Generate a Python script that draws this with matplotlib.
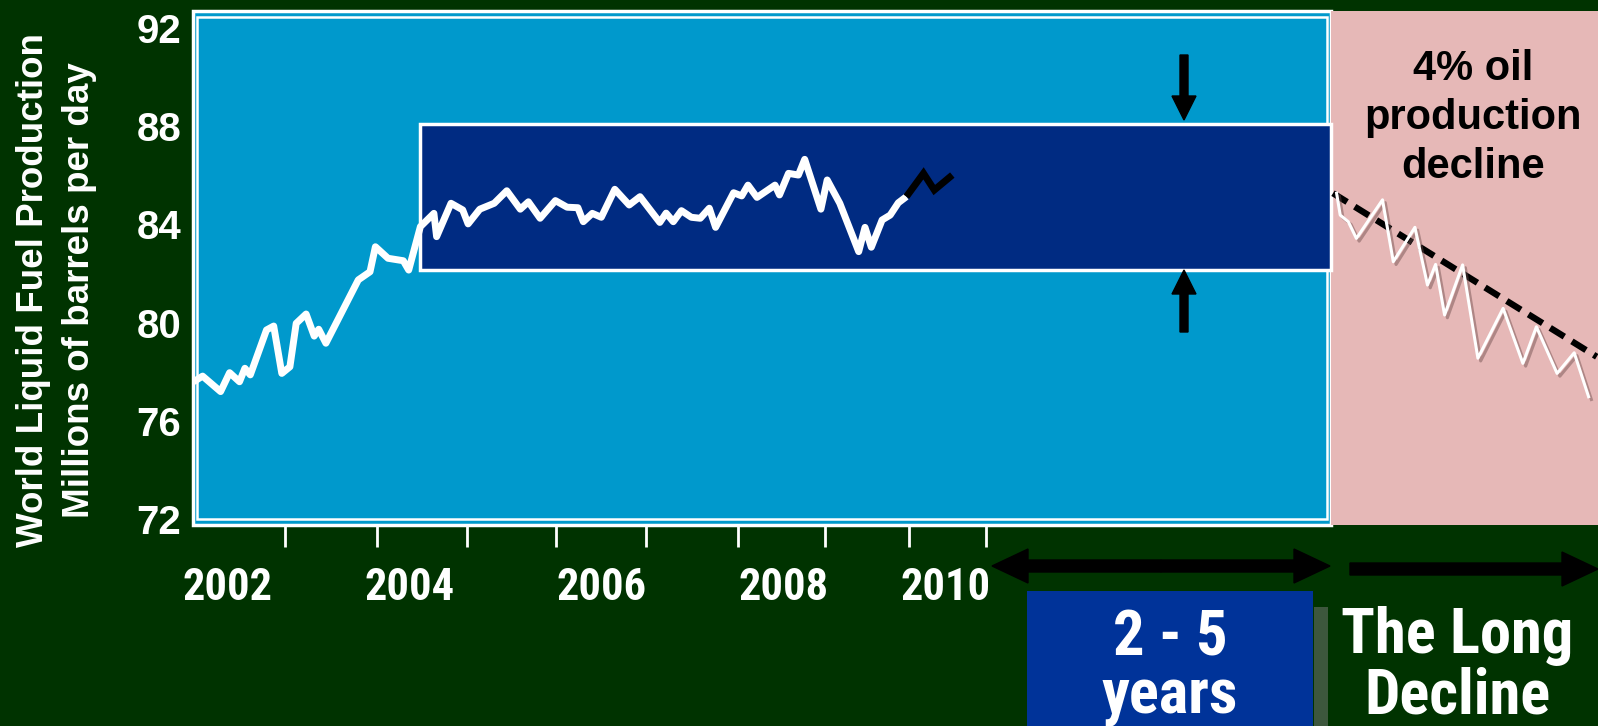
import matplotlib
matplotlib.use("Agg")
import matplotlib.pyplot as plt
import matplotlib.patheffects as pe
from matplotlib import font_manager
from matplotlib.patches import Rectangle, FancyArrow

# World liquid fuel production, million barrels per day (monthly-ish readings)
hist_year = [2001.64, 2001.74, 2001.94, 2002.04, 2002.15, 2002.21, 2002.27, 2002.45,
             2002.53, 2002.62, 2002.71, 2002.78, 2002.89, 2002.98, 2003.03, 2003.11,
             2003.47, 2003.60, 2003.66, 2003.80, 2003.97, 2004.03, 2004.16, 2004.31,
             2004.34, 2004.50, 2004.63, 2004.69, 2004.82, 2004.98, 2005.12, 2005.27,
             2005.36, 2005.49, 2005.66, 2005.79, 2005.91, 2005.97, 2006.07, 2006.17,
             2006.32, 2006.48, 2006.60, 2006.82, 2006.89, 2006.97, 2007.06, 2007.17,
             2007.27, 2007.37, 2007.44, 2007.64, 2007.73, 2007.80, 2007.90, 2008.10,
             2008.15, 2008.25, 2008.36, 2008.43, 2008.61, 2008.68, 2008.82, 2009.03,
             2009.10, 2009.17, 2009.29, 2009.38, 2009.47, 2009.56]
hist_mbd = [77.59, 77.82, 77.19, 77.96, 77.59, 78.14, 77.87, 79.70,
            79.86, 77.93, 78.20, 79.97, 80.35, 79.45, 79.73, 79.16,
            81.74, 82.07, 83.09, 82.62, 82.52, 82.14, 83.91, 84.45,
            83.50, 84.86, 84.59, 84.02, 84.62, 84.86, 85.37, 84.62,
            84.92, 84.25, 84.97, 84.70, 84.68, 84.11, 84.45, 84.29,
            85.43, 84.79, 85.13, 84.08, 84.46, 84.11, 84.56, 84.29,
            84.25, 84.66, 83.88, 85.29, 85.16, 85.60, 85.10, 85.60,
            85.20, 86.08, 86.01, 86.65, 84.62, 85.81, 84.86, 82.89,
            83.88, 83.07, 84.18, 84.38, 84.88, 85.13]

# latest months, drawn in black
recent_year = [2009.56, 2009.75, 2009.87, 2010.07]
recent_mbd = [85.13, 86.08, 85.40, 86.01]

# sketch of the decline phase
decline_year = [2014.34, 2014.38, 2014.47, 2014.56, 2014.85, 2014.97, 2015.21, 2015.35,
                2015.44, 2015.54, 2015.74, 2015.91, 2016.19, 2016.41, 2016.56, 2016.79,
                2016.98, 2017.14]
decline_mbd = [85.27, 84.38, 84.11, 83.43, 85.00, 82.48, 83.88, 81.53,
               82.37, 80.31, 82.35, 78.55, 80.58, 78.34, 79.83, 77.93,
               78.77, 76.98]
trend_year = [2014.30, 2017.23]
trend_mbd = [85.27, 78.61]

# plateau band and start of the decline zone
plateau_year = [2004.16, 2014.28]
plateau_mbd = [82.15, 88.10]
decline_start = 2014.28

y_ticks = [72, 76, 80, 84, 88, 92]
year_labels = ['2002', '2004', '2006', '2008', '2010']
year_label_pos = [2002.02, 2004.04, 2006.17, 2008.19, 2010.0]
year_tick_pos = [2002.66, 2003.68, 2004.68, 2005.67, 2006.67, 2007.69, 2008.66, 2009.59, 2010.44]

BG = '#003300'
SKY = '#0099CC'
NAVY = '#002B82'
PINK = '#E6B8B7'
W, H = 1598, 726

plt.rcParams['font.family'] = ['Liberation Sans', 'DejaVu Sans']

# condensed face for the year labels and captions, if one is around
installed = {f.name for f in font_manager.fontManager.ttflist}
condensed = next((n for n in ['Liberation Sans Narrow', 'Arial Narrow', 'Roboto Condensed',
                              'Open Sans Condensed', 'DejaVu Sans Condensed']
                  if n in installed), None)
if condensed in ('Liberation Sans Narrow', 'Arial Narrow', 'Roboto Condensed', 'Open Sans Condensed'):
    narrow = [condensed, 'Liberation Sans']
    year_size, cap_size = 32, 45
elif condensed:
    narrow = [condensed, 'Liberation Sans']
    year_size, cap_size = 29, 40
else:
    narrow = ['Liberation Sans']
    year_size, cap_size = 28, 38

fig = plt.figure(figsize=(W / 100, H / 100), dpi=100, facecolor=BG)

# main plot area, placed in pixels
left, right, top, bottom = 193, 1598, 11, 525
ax = fig.add_axes([left / W, 1 - bottom / H, (right - left) / W, (bottom - top) / H])
px_per_year, px_per_unit = 90.0, 24.55
x0 = 2002 + (left - 226) / px_per_year
x1 = 2002 + (right - 226) / px_per_year
y0 = 92 - (bottom - 28) / px_per_unit
y1 = 92 - (top - 28) / px_per_unit
ax.set_xlim(x0, x1)
ax.set_ylim(y0, y1)
ax.set_facecolor(BG)
for s in ax.spines.values():
    s.set_visible(False)

# blue history zone with a doubled white frame
ax.add_patch(Rectangle((x0, y0), decline_start - x0, y1 - y0, facecolor=SKY,
                       edgecolor='white', lw=2.5, zorder=0.5, clip_on=False))
dx, dy = 4 / px_per_year, 6 / px_per_unit
ax.add_patch(Rectangle((x0 + dx, y0 + dy), decline_start - x0 - 2 * dx, y1 - y0 - 2 * dy,
                       facecolor='none', edgecolor='white', lw=1.8, zorder=0.6))
# pink decline zone
ax.add_patch(Rectangle((decline_start, y0), x1 - decline_start, y1 - y0,
                       facecolor=PINK, edgecolor='none', zorder=0.7))
# plateau band
ax.add_patch(Rectangle((plateau_year[0], plateau_mbd[0]), plateau_year[1] - plateau_year[0],
                       plateau_mbd[1] - plateau_mbd[0], facecolor=NAVY,
                       edgecolor='white', lw=2.5, zorder=1))

ax.plot(hist_year, hist_mbd, color='white', lw=5, solid_joinstyle='round',
        solid_capstyle='butt', zorder=3)
ax.plot(recent_year, recent_mbd, color='black', lw=5, solid_joinstyle='miter',
        solid_capstyle='butt', zorder=3)
ax.plot(trend_year, trend_mbd, color='black', lw=4.6, dashes=(2.6, 1.4), zorder=3)
ax.plot(decline_year, decline_mbd, color='white', lw=2.2, zorder=4,
        path_effects=[pe.SimpleLineShadow(offset=(2, -2), shadow_color='#6a4a4a', alpha=0.45),
                      pe.Normal()])

ax.set_yticks(y_ticks)
ax.set_yticklabels([str(v) for v in y_ticks], color='white', fontsize=29, fontweight='bold')
ax.tick_params(axis='y', length=0, pad=8.5)
ax.set_xticks(year_label_pos)
ax.set_xticklabels(year_labels, color='white', fontsize=year_size, fontweight='bold', family=narrow)
ax.tick_params(axis='x', which='major', length=0, pad=30)
ax.set_xticks(year_tick_pos, minor=True)
ax.tick_params(axis='x', which='minor', length=16, width=2, color='white', direction='out')

# two-line axis title
fig.text(34 / W, 1 - 290 / H, 'World Liquid Fuel Production', rotation=90, ha='center',
         va='center', color='white', fontsize=26.5, fontweight='bold')
fig.text(80 / W, 1 - 290 / H, 'Millions of barrels per day', rotation=90, ha='center',
         va='center', color='white', fontsize=26.5, fontweight='bold')

# overlay in pixel units for arrows and captions
ov = fig.add_axes([0, 0, 1, 1], facecolor='none')
ov.set_xlim(0, W)
ov.set_ylim(H, 0)
ov.axis('off')

ov.text(1473, 118, '4% oil\nproduction\ndecline', ha='center', va='center',
        fontsize=30, fontweight='bold', color='black', linespacing=1.3)

arrow_kw = dict(color='black', length_includes_head=True)
ov.add_patch(FancyArrow(1184, 55, 0, 65, width=8, head_width=24, head_length=24, **arrow_kw))
ov.add_patch(FancyArrow(1184, 332, 0, -62, width=8, head_width=24, head_length=24, **arrow_kw))

ov.add_patch(FancyArrow(1161, 566, -169, 0, width=12, head_width=34, head_length=36, **arrow_kw))
ov.add_patch(FancyArrow(1161, 566, 169, 0, width=12, head_width=34, head_length=36, **arrow_kw))
ov.add_patch(FancyArrow(1350, 569, 248, 0, width=12, head_width=34, head_length=36, **arrow_kw))

ov.add_patch(Rectangle((1027, 591), 286, 140, facecolor='#003399', edgecolor='none'))
ov.add_patch(Rectangle((1314, 607), 14, 125, facecolor='#3D573D', edgecolor='none'))

cap = dict(ha='center', va='center', color='white', fontsize=cap_size, fontweight='bold',
           family=narrow)
ov.text(1170, 639, '2 - 5', **cap)
ov.text(1170, 697, 'years', **cap)
ov.text(1457, 636, 'The Long', **cap)
ov.text(1457, 697, 'Decline', **cap)

fig.savefig('out.png', dpi=100, facecolor=BG)
